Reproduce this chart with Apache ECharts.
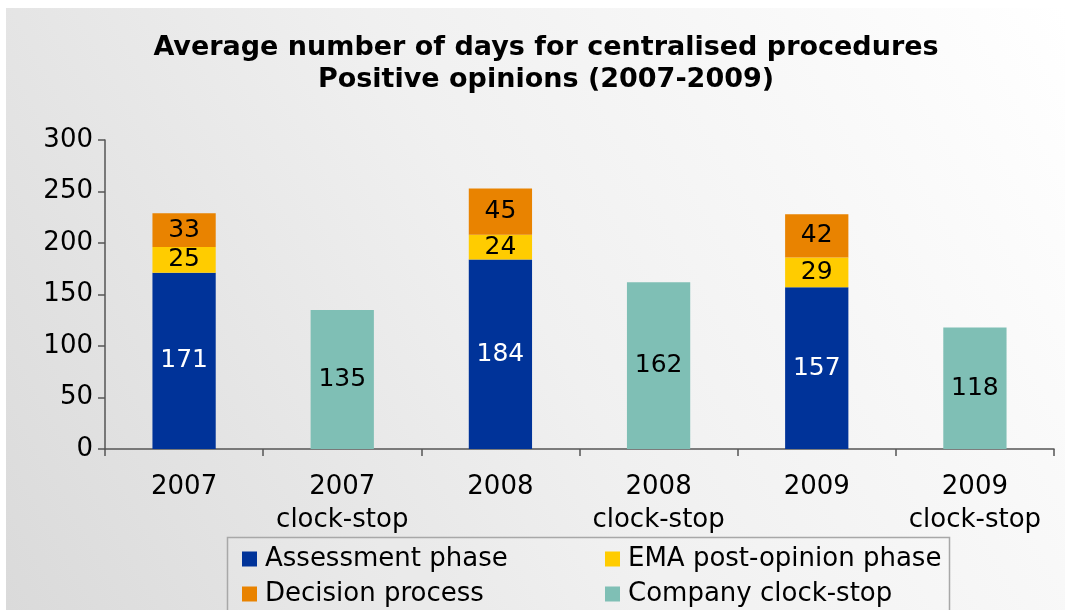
<!DOCTYPE html>
<html>
<head>
<meta charset="utf-8">
<script src="https://cdn.jsdelivr.net/npm/echarts@6/dist/echarts.min.js"></script>
<style>html,body{margin:0;padding:0;background:#fff}#c{width:1065px;height:610px}</style>
</head>
<body>
<div id="c"></div>
<script>
const categories = ['2007', '2007\nclock-stop', '2008', '2008\nclock-stop', '2009', '2009\nclock-stop'];
const assessment = [171, null, 184, null, 157, null];
const emaPostOpinion = [25, null, 24, null, 29, null];
const decision = [33, null, 45, null, 42, null];
const clockStop = [null, 135, null, 162, null, 118];
const yTicks = [0, 50, 100, 150, 200, 250, 300];

const FONT = 'DejaVu Sans';
const chart = echarts.init(document.getElementById('c'));
const lbl = (color) => ({
  show: true, position: 'inside', color: color, fontFamily: FONT, fontSize: 25,
  formatter: p => (p.value == null ? '' : p.value)
});
const legendBase = {
  orient: 'vertical', top: 546, itemWidth: 15, itemHeight: 15, itemGap: 9,
  padding: 0, height: 70, icon: 'rect',
  textStyle: { fontFamily: FONT, fontSize: 26, lineHeight: 26, color: '#000', padding: [0, 0, 0, 3] }
};
chart.setOption({
  backgroundColor: '#ffffff',
  animation: false,
  textStyle: { fontFamily: FONT },
  graphic: [{
    type: 'rect', z: -10, silent: true,
    shape: { x: 6, y: 8, width: 1059, height: 602 },
    style: {
      fill: new echarts.graphic.LinearGradient(1, 0, 0, 1, [
        { offset: 0, color: '#ffffff' },
        { offset: 0.5, color: '#f0f0f0' },
        { offset: 1, color: '#dadada' }
      ])
    }
  }, {
    type: 'rect', z: 1, silent: true,
    shape: { x: 227.5, y: 537.5, width: 722, height: 80 },
    style: { fill: 'rgba(255,255,255,0.12)', stroke: '#a8a8a8', lineWidth: 1.5 }
  }],
  title: {
    text: 'Average number of days for centralised procedures\nPositive opinions (2007-2009)',
    left: 541, textAlign: 'center', top: 27,
    textStyle: { fontFamily: FONT, fontWeight: 'bold', fontSize: 27, lineHeight: 32, color: '#000' }
  },
  legend: [
    Object.assign({}, legendBase, { left: 242, data: ['Assessment phase', 'Decision process'] }),
    Object.assign({}, legendBase, { left: 605, data: ['EMA post-opinion phase', 'Company clock-stop'] })
  ],
  grid: { left: 105, right: 11, top: 140, bottom: 161 },
  xAxis: {
    type: 'category', data: categories,
    axisLine: { lineStyle: { color: '#555', width: 1.5 } },
    axisTick: { show: true, length: 7, alignWithLabel: false, lineStyle: { color: '#555', width: 1.5 } },
    axisLabel: { color: '#000', fontFamily: FONT, fontSize: 26, lineHeight: 33, margin: 22, interval: 0 }
  },
  yAxis: {
    type: 'value', min: 0, max: 300, interval: 50,
    splitLine: { show: false },
    axisLine: { show: true, lineStyle: { color: '#555', width: 1.5 } },
    axisTick: { show: true, length: 7, lineStyle: { color: '#555', width: 1.5 } },
    axisLabel: { color: '#000', fontFamily: FONT, fontSize: 26, margin: 12,
      formatter: v => (yTicks.indexOf(v) >= 0 ? String(v) : '') }
  },
  series: [
    { name: 'Assessment phase', type: 'bar', stack: 's', barWidth: '40%', data: assessment,
      itemStyle: { color: '#003399' }, label: lbl('#ffffff') },
    { name: 'EMA post-opinion phase', type: 'bar', stack: 's', data: emaPostOpinion,
      itemStyle: { color: '#FFCC00' }, label: lbl('#000000') },
    { name: 'Decision process', type: 'bar', stack: 's', data: decision,
      itemStyle: { color: '#E98300' }, label: lbl('#000000') },
    { name: 'Company clock-stop', type: 'bar', stack: 's', data: clockStop,
      itemStyle: { color: '#7FBFB5' }, label: lbl('#000000') }
  ]
});
</script>
</body>
</html>
